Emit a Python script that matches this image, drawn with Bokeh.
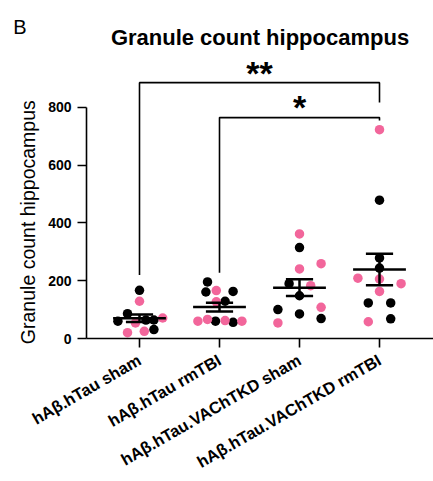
import math
import numpy as np
from bokeh.plotting import figure
from bokeh.models import Range1d, FixedTicker, LinearAxis
from bokeh.core.properties import value
from bokeh.embed import file_html
from bokeh.resources import INLINE

# ---------------- data ----------------
groups = ["hAβ.hTau sham", "hAβ.hTau rmTBI",
          "hAβ.hTau.VAChTKD sham", "hAβ.hTau.VAChTKD rmTBI"]

black_vals = [[167, 86, 60, 64, 64, 31],
              [196, 161, 163, 129, 60, 56],
              [315, 190, 148, 100, 85, 69],
              [479, 279, 244, 123, 123, 68]]
black_jitter = [[0.0, -0.15, -0.27, 0.08, 0.18, 0.18],
                [-0.15, -0.17, 0.17, 0.07, -0.05, 0.17],
                [0.0, -0.13, 0.0, -0.27, 0.0, 0.27],
                [0.0, 0.0, 0.0, -0.14, 0.14, 0.14]]
pink_vals = [[129, 54, 71, 20, 25],
             [166, 127, 60, 66, 62, 60],
             [362, 241, 259, 183, 108, 54],
             [723, 209, 206, 190, 163, 58]]
pink_jitter = [[0.0, -0.05, 0.29, -0.15, 0.06],
               [-0.04, -0.04, -0.27, -0.15, 0.07, 0.28],
               [0.0, 0.0, 0.27, 0.14, 0.27, -0.27],
               [0.0, -0.27, 0.0, 0.27, 0.0, -0.14]]

y_ticks = [0, 200, 400, 600, 800]

# significance brackets
cmp_pairs = [(0, 3), (1, 3)]
cmp_tops = [886, 765]
cmp_left_ends = [220, 228]
cmp_right_ends = [817, 755]
cmp_labels = ["**", "*"]
cmp_label_y = [920, 801]

title_text = "Granule count hippocampus"
panel_letter = "B"
y_label = "Granule count hippocampus"

# ---------------- style ----------------
FONT = "Liberation Sans"
PINK = "#F2669B"
BLACK = "#000000"

p = figure(width=433, height=481, output_backend="svg", toolbar_location=None,
           x_range=Range1d(-0.6625, 3.675), y_range=Range1d(0, 980),
           min_border_left=86, min_border_right=0, min_border_top=55,
           min_border_bottom=142)
p.outline_line_color = None
p.grid.visible = False

# title
p.title.text = title_text
p.title.align = "center"
p.title.text_font = FONT
p.title.text_font_style = "bold"
p.title.text_font_size = "22px"
p.title.text_color = "black"
p.title.standoff = 11
p.title.vertical_align = "bottom"

# axes
for ax in (p.xaxis, p.yaxis):
    ax.axis_line_width = 1.6
    ax.major_tick_line_width = 1.6
    ax.major_tick_out = 9
    ax.major_tick_in = 0
    ax.minor_tick_line_color = None
    ax.major_label_text_font = FONT
    ax.major_label_text_font_style = "bold"
    ax.major_label_text_color = "black"
    ax.axis_line_color = "black"
    ax.major_tick_line_color = "black"

p.xaxis.ticker = FixedTicker(ticks=list(range(len(groups))))
p.xaxis.major_label_overrides = {i: g for i, g in enumerate(groups)}
p.xaxis.major_label_orientation = math.pi / 6
p.xaxis.major_label_text_font_size = "16.5px"
p.xaxis.major_label_standoff = 11

p.yaxis.ticker = FixedTicker(ticks=y_ticks)
p.yaxis.bounds = (0, 800)
p.yaxis.major_label_text_font_size = "14px"
p.yaxis.major_label_standoff = 6


def text_axis(tick, bounds, label, size, style, orientation, standoff):
    ax = LinearAxis(ticker=FixedTicker(ticks=[tick]),
                    bounds=bounds, major_label_overrides={tick: label},
                    axis_line_color=None, major_tick_line_color=None,
                    minor_tick_line_color=None, major_tick_out=0,
                    major_tick_in=0, major_label_standoff=standoff,
                    major_label_orientation=orientation,
                    major_label_text_font=FONT,
                    major_label_text_font_size=size,
                    major_label_text_font_style=style,
                    major_label_text_color="black")
    p.add_layout(ax, "left")
    return ax


# y-axis title (its top end sits a little above the 800 tick)
text_axis(825, (820, 830), y_label, "19.5px", "normal", math.pi / 2, 17)
# panel letter (extra blank lines lift it above the plot frame)
text_axis(897, (890, 905), panel_letter + "\n\u00a0" * 4, "20px", "normal",
          "horizontal", -23)

# points
bx, by, px_, py_ = [], [], [], []
for i in range(len(groups)):
    bx += [i + j for j in black_jitter[i]]
    by += black_vals[i]
    px_ += [i + j for j in pink_jitter[i]]
    py_ += pink_vals[i]
p.scatter(bx, by, size=9.5, fill_color=BLACK, line_color=None)
p.scatter(px_, py_, size=9.5, fill_color=PINK, line_color=None)

# mean +/- SEM
for i in range(len(groups)):
    allv = np.array(black_vals[i] + pink_vals[i], dtype=float)
    m = allv.mean()
    s = allv.std(ddof=1) / np.sqrt(len(allv))
    p.line([i - 0.33, i + 0.33], [m, m], line_color="black", line_width=2.5)
    p.line([i - 0.17, i + 0.17], [m + s, m + s], line_color="black", line_width=2.5)
    p.line([i - 0.17, i + 0.17], [m - s, m - s], line_color="black", line_width=2.5)
    p.line([i, i], [m - s, m + s], line_color="black", line_width=2.5)

# brackets
xs, ys = [], []
for (a, b), t, l, r in zip(cmp_pairs, cmp_tops, cmp_left_ends, cmp_right_ends):
    xs.append([a, a, b, b])
    ys.append([l, t, t, r])
p.multi_line(xs, ys, line_color="black", line_width=1.6)
p.text(x=[(a + b) / 2 for a, b in cmp_pairs], y=cmp_label_y, text=cmp_labels,
       text_align="center", text_baseline="alphabetic",
       text_font=value(FONT), text_font_style="bold", text_font_size="34px",
       text_color="black")

open("out.html", "w").write(file_html(p, INLINE))
